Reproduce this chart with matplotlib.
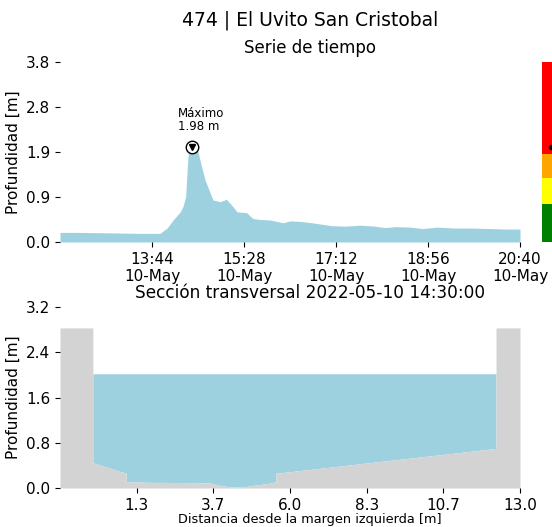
import matplotlib
matplotlib.use("Agg")
import matplotlib.pyplot as plt
import matplotlib.dates as mdates
import numpy as np
import pandas as pd

# ---------------- data ----------------
station_title = "474 | El Uvito San Cristobal"
series_title = "Serie de tiempo"
section_title = "Sección transversal 2022-05-10 14:30:00"
section_xlabel = "Distancia desde la margen izquierda [m]"

times = ["12:00", "12:23", "12:57", "13:30", "13:53", "14:01", "14:08", "14:16",
         "14:19", "14:22", "14:24", "14:25", "14:29", "14:33", "14:36", "14:40",
         "14:44", "14:50", "14:53", "15:01", "15:08", "15:14", "15:20", "15:31",
         "15:38", "15:46", "15:57", "16:05", "16:12", "16:20", "16:31", "16:45",
         "16:56", "17:07", "17:22", "17:39", "17:56", "18:07", "18:19", "18:36",
         "18:50", "19:06", "19:27", "19:47", "20:06", "20:25", "20:40"]
depth = [0.20, 0.20, 0.19, 0.18, 0.18, 0.29, 0.46, 0.63,
         0.74, 0.94, 1.57, 1.85, 1.98, 1.90, 1.88, 1.57,
         1.29, 1.01, 0.875, 0.84, 0.89, 0.77, 0.63, 0.61,
         0.49, 0.47, 0.46, 0.43, 0.40, 0.44, 0.43, 0.40,
         0.37, 0.34, 0.33, 0.35, 0.33, 0.30, 0.32, 0.31,
         0.28, 0.31, 0.29, 0.29, 0.28, 0.27, 0.27]
date_str = "2022-05-10"
ts_ymax = 3.75
ts_tick_labels = ["13:44\n10-May", "15:28\n10-May", "17:12\n10-May",
                  "18:56\n10-May", "20:40\n10-May"]

alert_bounds = [0.0, 0.785, 1.33, 1.83, 3.75]
alert_colors = ["green", "yellow", "orange", "red"]

# cross section
wall_height = 2.83
water_level = 2.02
bed_x = [-1.0, 0.0, 0.0, 1.01, 1.01, 1.74, 3.26, 3.56, 3.92, 4.23, 4.63, 4.93,
         5.33, 5.57, 5.57, 12.27, 12.27, 13.0]
bed_y = [2.83, 2.83, 0.447, 0.26, 0.11, 0.10, 0.094, 0.09, 0.04, 0.02, 0.025, 0.05,
         0.08, 0.11, 0.26, 0.70, 2.83, 2.83]
sec_xmin, sec_xmax = -1.0, 13.0
sec_ymax = 3.2

# ---------------- figure ----------------
water_color = "#9dd1e0"
ground_color = "#d3d3d3"

fig = plt.figure(figsize=(5.52, 5.27), dpi=100)
W, H = 552, 527

def ax_rect(x0, y0, x1, y1):
    return [x0 / W, 1 - y1 / H, (x1 - x0) / W, (y1 - y0) / H]

ax1 = fig.add_axes(ax_rect(60, 62, 520, 242))
ax2 = fig.add_axes(ax_rect(60, 307, 520, 488))
axc = fig.add_axes(ax_rect(542, 62, 560, 242))

for ax in (ax1, ax2, axc):
    for s in ax.spines.values():
        s.set_visible(False)

# time series
t = pd.to_datetime([f"{date_str} {h}" for h in times])
tn = mdates.date2num(t)
d = np.array(depth)
ax1.fill_between(tn, 0, d, color=water_color, linewidth=0)
ax1.set_xlim(tn[0], tn[-1])
ax1.set_ylim(0, ts_ymax)
yt = np.linspace(0, ts_ymax, 5)
ax1.set_yticks(yt)
ax1.set_yticklabels([f"{v:.1f}" for v in yt])
xt = np.linspace(tn[0], tn[-1], 6)[1:]
ax1.set_xticks(xt)
ax1.set_xticklabels(ts_tick_labels)
ax1.set_ylabel("Profundidad [m]", fontsize=11)
ax1.tick_params(labelsize=11)

imax = int(np.argmax(d))
ax1.plot(tn[imax], d[imax], marker="o", markersize=9, markerfacecolor="white",
         markeredgecolor="black", markeredgewidth=1.0, zorder=5)
ax1.plot(tn[imax], d[imax], marker="v", markersize=5, color="black", zorder=6)
ax1.annotate(f"Máximo\n{d[imax]:.2f} m", xy=(tn[imax], d[imax]),
             xytext=(-10, 10), textcoords="offset points", ha="left", va="bottom",
             fontsize=8.5, linespacing=1.0)

# alert bar
for i, c in enumerate(alert_colors):
    axc.fill_between([0, 1], alert_bounds[i], alert_bounds[i + 1], color=c, linewidth=0)
axc.set_xlim(0, 1)
axc.set_ylim(0, ts_ymax)
axc.plot(0.5, d[imax], marker="o", markersize=3, color="black")
axc.set_xticks([])
axc.set_yticks([])

# cross section
bx = np.array(bed_x)
by = np.array(bed_y)
mask = (bx >= 0.0) & (bx <= 12.27)
wx = bx[mask][1:-1]
wy = by[mask][1:-1]
ax2.fill_between(wx, wy, water_level, color=water_color, linewidth=0)
ax2.fill_between(bx, 0, by, color=ground_color, linewidth=0)
ax2.set_xlim(sec_xmin, sec_xmax)
ax2.set_ylim(0, sec_ymax)
xt2 = np.linspace(sec_xmin, sec_xmax, 7)[1:]
ax2.set_xticks(xt2)
ax2.set_xticklabels([f"{v:.1f}" for v in xt2])
yt2 = np.linspace(0, sec_ymax, 5)
ax2.set_yticks(yt2)
ax2.set_yticklabels([f"{v:.1f}" for v in yt2])
ax2.set_ylabel("Profundidad [m]", fontsize=11)
ax2.tick_params(labelsize=11)

fig.text(310 / W, 1 - 20 / H, station_title, ha="center", va="center", fontsize=13.5)
fig.text(310 / W, 1 - 48 / H, series_title, ha="center", va="center", fontsize=12)
fig.text(310 / W, 1 - 293 / H, section_title, ha="center", va="center", fontsize=12.2)
fig.text(310 / W, 1 - 519 / H, section_xlabel, ha="center", va="center", fontsize=9.3)

fig.savefig("out.png", dpi=100)
